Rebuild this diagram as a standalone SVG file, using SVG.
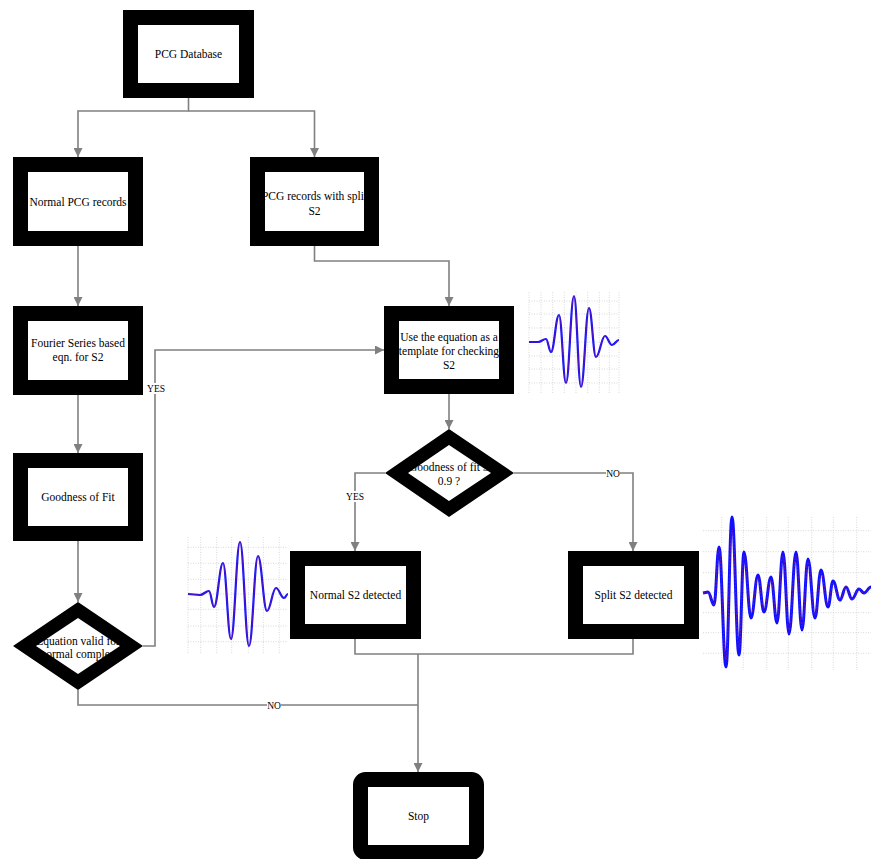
<svg xmlns="http://www.w3.org/2000/svg" width="871" height="859" viewBox="0 0 871 859">
<defs>
<style>
.t{font-family:"Liberation Serif","Times New Roman",serif;font-size:11.5px;fill:#000;text-anchor:middle}
.lb{font-family:"Liberation Serif","Times New Roman",serif;font-size:9.5px;fill:#000;text-anchor:middle}
.fill{fill:#fff}
.ring{fill:none;stroke:#000;stroke-width:15}
.dring{fill:#000;fill-rule:evenodd}
.c{fill:none;stroke:#808080;stroke-width:1.6}
.grid{stroke:#c8c8c8;stroke-width:0.7;stroke-dasharray:1 1.5;fill:none}
.wb{fill:none;stroke:#1010ff;stroke-width:2.2;stroke-linejoin:round}
.wr{fill:none;stroke:#ff2020;stroke-width:0.5;opacity:0.55}
</style>
<marker id="ahb" viewBox="0 0 10 10" refX="10" refY="5" markerWidth="9" markerHeight="9" orient="auto" markerUnits="userSpaceOnUse">
<path d="M0,0 L10,5 L0,10 Z" fill="#808080"/>
</marker>
</defs>
<rect width="871" height="859" fill="#fff"/>

<g id="connectors">
<path class="c" d="M188.5,98 V111 H78 V157" marker-end="url(#ahb)"/>
<path class="c" d="M188.5,111 H314.5 V157" marker-end="url(#ahb)"/>
<path class="c" d="M78,246 V306" marker-end="url(#ahb)"/>
<path class="c" d="M314.5,246 V261 H449 V306" marker-end="url(#ahb)"/>
<path class="c" d="M78,395 V453" marker-end="url(#ahb)"/>
<path class="c" d="M78,541 V602" marker-end="url(#ahb)"/>
<path class="c" d="M143,646 H155 V350 H384" marker-end="url(#ahb)"/>
<path class="c" d="M449,394 V429" marker-end="url(#ahb)"/>
<path class="c" d="M385,473 H355 V551" marker-end="url(#ahb)"/>
<path class="c" d="M514,473 H633 V551" marker-end="url(#ahb)"/>
<path class="c" d="M78,690 V705 H418"/>
<path class="c" d="M355,639 V654 H633 V639"/>
<path class="c" d="M418,654 V772" marker-end="url(#ahb)"/>
<rect x="147" y="383" width="18" height="11" fill="#fff"/>
<text class="lb" x="156" y="392">YES</text>
<rect x="346" y="491" width="18" height="11" fill="#fff"/>
<text class="lb" x="355" y="500">YES</text>
<rect x="606" y="468" width="14" height="10" fill="#fff"/>
<text class="lb" x="613" y="476.5">NO</text>
<rect x="267" y="700" width="14" height="10" fill="#fff"/>
<text class="lb" x="274" y="708.5">NO</text>
</g>

<g id="node-pcg-database">
<rect class="fill" x="130.5" y="17.5" width="116" height="73"/>
<text class="t" x="188.5" y="58">PCG Database</text>
<rect class="ring" x="130.5" y="17.5" width="116" height="73"/>
</g>

<g id="node-normal-pcg">
<rect class="fill" x="20.5" y="164.5" width="115" height="74"/>
<text class="t" x="78" y="206">Normal PCG records</text>
<rect class="ring" x="20.5" y="164.5" width="115" height="74"/>
</g>

<g id="node-split-pcg">
<rect class="fill" x="257.5" y="164.5" width="114" height="74"/>
<text class="t" x="314.5" y="200"><tspan x="314.5">PCG records with split</tspan><tspan x="314.5" dy="14.5">S2</tspan></text>
<rect class="ring" x="257.5" y="164.5" width="114" height="74"/>
</g>

<g id="node-fourier">
<rect class="fill" x="20.5" y="313.5" width="115" height="74"/>
<text class="t" x="78" y="347"><tspan x="78">Fourier Series based</tspan><tspan x="78" dy="14">eqn. for S2</tspan></text>
<rect class="ring" x="20.5" y="313.5" width="115" height="74"/>
</g>

<g id="node-goodness-box">
<rect class="fill" x="20.5" y="460.5" width="115" height="73"/>
<text class="t" x="78" y="501">Goodness of Fit</text>
<rect class="ring" x="20.5" y="460.5" width="115" height="73"/>
</g>

<g id="node-equation-valid">
<path class="fill" d="M36,646 L78,618 L120,646 L78,674 Z"/>
<text class="t" x="78" y="645"><tspan x="78">Equation valid for</tspan><tspan x="78" dy="13">normal complex</tspan></text>
<path class="dring" d="M13,646 L78,602 L143,646 L78,690 Z M36,646 L78,618 L120,646 L78,674 Z"/>
</g>

<g id="node-use-equation">
<rect class="fill" x="391.5" y="313.5" width="115" height="73"/>
<text class="t" x="449" y="341"><tspan x="449">Use the equation as a</tspan><tspan x="449" dy="14">template for checking</tspan><tspan x="449" dy="14">S2</tspan></text>
<rect class="ring" x="391.5" y="313.5" width="115" height="73"/>
</g>

<g id="node-goodness-check">
<path class="fill" d="M408,473 L449,445 L491,473 L449,501 Z"/>
<text class="t" x="449" y="471"><tspan x="449">Goodness of fit ≥</tspan><tspan x="449" dy="13.5">0.9 ?</tspan></text>
<path class="dring" d="M385,473 L449,429 L514,473 L449,517 Z M408,473 L449,445 L491,473 L449,501 Z"/>
</g>

<g id="node-normal-s2">
<rect class="fill" x="297.5" y="558.5" width="116" height="73"/>
<text class="t" x="355.5" y="599">Normal S2 detected</text>
<rect class="ring" x="297.5" y="558.5" width="116" height="73"/>
</g>

<g id="node-split-s2">
<rect class="fill" x="575.5" y="558.5" width="116" height="73"/>
<text class="t" x="633.5" y="599">Split S2 detected</text>
<rect class="ring" x="575.5" y="558.5" width="116" height="73"/>
</g>

<g id="node-stop">
<rect class="fill" x="360.5" y="779.5" width="116" height="73" rx="5"/>
<text class="t" x="418.5" y="820">Stop</text>
<rect class="ring" x="360.5" y="779.5" width="116" height="73" rx="5"/>
</g>

<g id="waveform-template">
<path class="grid" d="M529,292 V393 M541,292 V393 M552.7,292 V393 M564.3,292 V393 M576,292 V393 M587.7,292 V393 M599.3,292 V393 M609.3,292 V393 M619,292 V393 M529,301 H619 M529,314 H619 M529,328 H619 M529,342 H619 M529,356 H619 M529,369 H619 M529,383 H619"/>
<path class="wb" d="M529,342 L538,342 C541.2,342 542.8,339 546,339 C548,339 549,352 551,352 C554.2,352 555.8,315 559,315 C561.8,315 563.2,383 566,383 C569.2,383 570.8,296 574,296 C576.8,296 578.2,387 581,387 C584.2,387 585.8,308 589,308 C591.8,308 593.2,357 596,357 C599.6,357 601.4,336 605,336 C607.8,336 609.2,345 612,345 C614.8,345 616.2,340 619,340"/>
<path class="wr" d="M529,342 L538,342 C541.2,342 542.8,339 546,339 C548,339 549,352 551,352 C554.2,352 555.8,315 559,315 C561.8,315 563.2,383 566,383 C569.2,383 570.8,296 574,296 C576.8,296 578.2,387 581,387 C584.2,387 585.8,308 589,308 C591.8,308 593.2,357 596,357 C599.6,357 601.4,336 605,336 C607.8,336 609.2,345 612,345 C614.8,345 616.2,340 619,340"/>
</g>

<g id="waveform-normal">
<path class="grid" d="M188,537 V653 M200.7,537 V653 M216.7,537 V653 M231.7,537 V653 M248.3,537 V653 M263.3,537 V653 M279.3,537 V653 M188,547.3 H288 M188,563.3 H288 M188,579.3 H288 M188,594 H288 M188,609.3 H288 M188,626 H288 M188,641.7 H288"/>
<path class="wb" d="M188,594 L200,595 C203.6,595 205.4,591 209,591 C211,591 212,607 214,607 C217.6,607 219.4,563 223,563 C226.2,563 227.8,639 231,639 C234.6,639 236.4,542 240,542 C243.6,542 245.4,646 249,646 C252.6,646 254.4,556 258,556 C261.6,556 263.4,611 267,611 C270.6,611 272.4,588 276,588 C279.2,588 280.8,598 284,598 C285.6,598 286.4,594 288,594"/>
<path class="wr" d="M188,594 L200,595 C203.6,595 205.4,591 209,591 C211,591 212,607 214,607 C217.6,607 219.4,563 223,563 C226.2,563 227.8,639 231,639 C234.6,639 236.4,542 240,542 C243.6,542 245.4,646 249,646 C252.6,646 254.4,556 258,556 C261.6,556 263.4,611 267,611 C270.6,611 272.4,588 276,588 C279.2,588 280.8,598 284,598 C285.6,598 286.4,594 288,594"/>
</g>

<g id="waveform-split">
<path class="grid" d="M721.7,517 V670 M743.3,517 V670 M766.7,517 V670 M788.3,517 V670 M811.7,517 V670 M833.3,517 V670 M856.7,517 V670 M703,530.7 H871 M703,551.7 H871 M703,572.7 H871 M703,592.7 H871 M703,612.7 H871 M703,632.7 H871 M703,653.3 H871"/>
<path class="wb" style="stroke-width:3" d="M703,593 L708,592 C710.4,592 711.6,605 714,605 C716,605 717,547 719,547 C721.8,547 723.2,667 726,667 C728.4,667 729.6,517 732,517 C734.8,517 736.2,655 739,655 C741,655 742,552 744,552 C746.8,552 748.2,618 751,618 C753.8,618 755.2,575 758,575 C760.4,575 761.6,612 764,612 C766.8,612 768.2,577 771,577 C773.4,577 774.6,623 777,623 C779.4,623 780.6,552 783,552 C785.4,552 786.6,634 789,634 C791.8,634 793.2,552 796,552 C798.4,552 799.6,630 802,630 C804.4,630 805.6,559 808,559 C810.8,559 812.2,618 815,618 C817.4,618 818.6,570 821,570 C823.8,570 825.2,607 828,607 C830,607 831,581 833,581 C835.8,581 837.2,600 840,600 C842.4,600 843.6,587 846,587 C848.4,587 849.6,599 852,599 C854.8,599 856.2,589 859,589 C861,589 862,593 864,593 C866.8,593 868.2,587 871,587"/>
<path class="wr" style="stroke-dasharray:2 1.5;opacity:0.8" d="M703,593 L708,592 C710.4,592 711.6,605 714,605 C716,605 717,550 719,550 C721.8,550 723.2,660 726,660 C728.4,660 729.6,530 732,530 C734.8,530 736.2,648 739,648 C741,648 742,556 744,556 C746.8,556 748.2,614 751,614 C753.8,614 755.2,578 758,578 C760.4,578 761.6,609 764,609 C766.8,609 768.2,580 771,580 C773.4,580 774.6,620 777,620 C779.4,620 780.6,556 783,556 C785.4,556 786.6,630 789,630 C791.8,630 793.2,556 796,556 C798.4,556 799.6,626 802,626 C804.4,626 805.6,562 808,562 C810.8,562 812.2,615 815,615 C817.4,615 818.6,573 821,573 C823.8,573 825.2,605 828,605 C830,605 831,583 833,583 C835.8,583 837.2,602 840,602 C842.4,602 843.6,586 846,586 C848.4,586 849.6,600 852,600 C854.8,600 856.2,588 859,588 C861,588 862,594 864,594 C866.8,594 868.2,587 871,587"/>
</g>
</svg>
